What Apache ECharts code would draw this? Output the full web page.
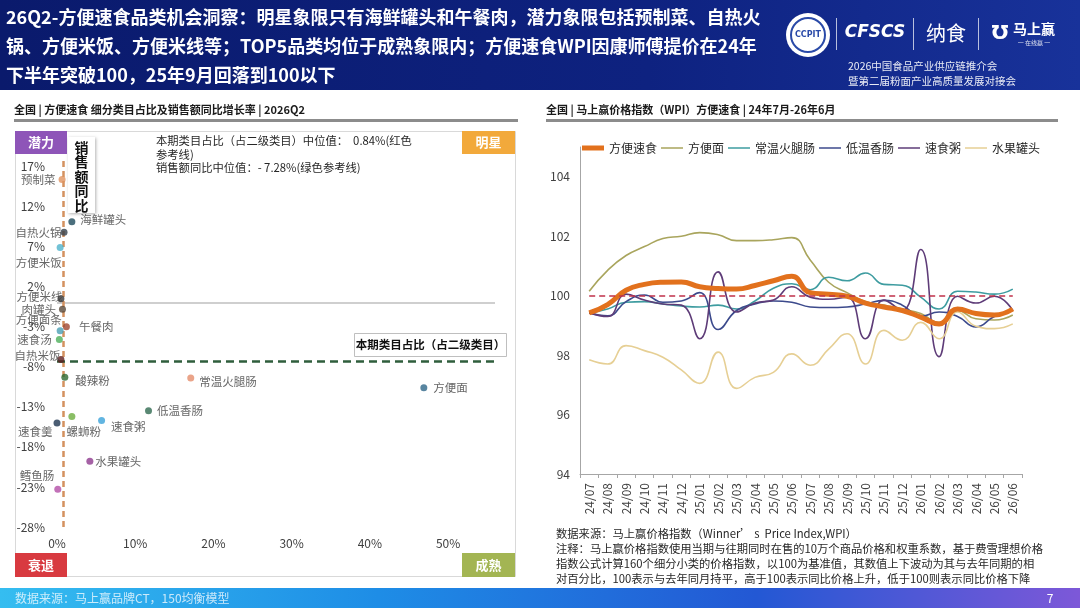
<!DOCTYPE html>
<html><head><meta charset="utf-8">
<script src="https://cdn.jsdelivr.net/npm/echarts@6.0.0/dist/echarts.min.js"></script>
<style>html,body{margin:0;padding:0;background:#fff}#c{width:1080px;height:608px}</style>
</head><body><div id="c"></div>
<script>
const FONT = '"Noto Sans CJK SC","Noto Sans",sans-serif';

// ---------- Left chart: category share vs. sales growth ----------
const categories = ['预制菜','海鲜罐头','自热火锅','方便米饭','方便米线','肉罐头','午餐肉','方便面条','速食汤','自热米饭','酸辣粉','常温火腿肠','方便面','低温香肠','螺蛳粉','速食粥','速食羹','水果罐头','鳕鱼肠'];
const shareValues  = [0.65, 1.9, 0.9, 0.4, 0.5, 0.7, 1.2, 0.4, 0.3, 0.5, 1.0, 17.1, 46.9, 11.7, 1.9, 5.7, 0.0, 4.2, 0.1];
const growthValues = [15.4, 10.1, 8.8, 6.9, 0.5, -0.8, -3.0, -3.5, -4.6, -7.1, -9.3, -9.4, -10.6, -13.5, -14.2, -14.7, -15.0, -19.8, -23.3];
const shareMedian = 0.84;
const growthMedian = -7.28;
const shareTicks  = [0, 10, 20, 30, 40, 50];
const growthTicks = [-28, -23, -18, -13, -8, -3, 2, 7, 12, 17];

// ---------- Right chart: WPI ----------
const months = ['24/07','24/08','24/09','24/10','24/11','24/12','25/01','25/02','25/03','25/04','25/05','25/06','25/07','25/08','25/09','25/10','25/11','25/12','26/01','26/02','26/03','26/04','26/05','26/06'];
const wpiConvenience = [99.42, 99.7, 100.18, 100.38, 100.45, 100.46, 100.3, 100.24, 100.22, 100.34, 100.5, 100.65, 100.1, 100.05, 99.98, 99.75, 99.62, 99.5, 99.28, 99.05, 99.55, 99.4, 99.35, 99.55];
const wpiNoodles     = [100.15, 100.85, 101.35, 101.65, 101.92, 102.0, 102.12, 102.05, 101.85, 101.85, 101.88, 101.95, 101.2, 100.45, 100.1, 99.8, 99.68, 99.55, 99.4, 99.1, 99.5, 99.22, 99.18, 99.35];
const wpiHam         = [99.42, 99.55, 99.78, 99.8, 99.72, 99.65, 99.62, 99.68, 99.55, 99.82, 100.25, 100.4, 100.2, 100.62, 100.5, 100.76, 100.38, 100.35, 99.95, 99.55, 100.15, 100.12, 100.05, 100.22];
const wpiSausage     = [99.42, 99.32, 99.8, 100.02, 99.78, 99.82, 100.1, 98.86, 99.5, 99.72, 99.82, 99.78, 99.62, 99.6, 99.62, 99.72, 99.84, 99.68, 99.3, 99.45, 99.3, 98.95, 99.3, 99.5];
const wpiPorridge    = [99.42, 99.3, 100.05, 99.85, 99.72, 99.68, 98.55, 100.8, 99.45, 99.75, 99.85, 100.3, 99.95, 99.88, 99.95, 98.55, 99.85, 99.5, 101.55, 97.95, 99.98, 99.75, 99.98, 99.5];
const wpiFruitCan    = [97.84, 97.7, 98.32, 98.15, 97.93, 97.5, 97.05, 98.1, 96.88, 97.25, 97.42, 98.04, 97.66, 98.2, 98.72, 97.7, 98.83, 98.5, 99.1, 98.55, 99.45, 98.97, 98.89, 99.05];
const wpiSeriesNames = ['方便速食','方便面','常温火腿肠','低温香肠','速食粥','水果罐头'];
const wpiBase = 100;
const wpiTicks = [94, 96, 98, 100, 102, 104];

// ---------- styles ----------
const pointColors = {
  '预制菜':'#E0925E','海鲜罐头':'#1E4B5C','自热火锅':'#34404A','方便米饭':'#4FB3CC','方便米线':'#3A3A3A',
  '肉罐头':'#5A4A3A','午餐肉':'#A0462E','方便面条':'#4A9FB4','速食汤':'#4CAF5A','自热米饭':'#5E1E1E',
  '酸辣粉':'#2F6A32','常温火腿肠':'#E58D6C','方便面':'#2E6688','低温香肠':'#2F6A50','螺蛳粉':'#6DAE3E',
  '速食粥':'#3BA3D9','速食羹':'#1E3450','水果罐头':'#8E3A8E','鳕鱼肠':'#B34DA6'
};
const labelLayout = {
  '预制菜':{position:'left',distance:3},
  '海鲜罐头':{position:'right',distance:5,offset:[0,-2]},
  '自热火锅':{position:'left',distance:-1},
  '方便米饭':{position:'left',distance:-5,offset:[0,15]},
  '方便米线':{position:'left',distance:-5,offset:[0,-2]},
  '肉罐头':{position:'left',distance:3},
  '午餐肉':{position:'right',distance:9},
  '方便面条':{position:'left',distance:-5,offset:[0,-11]},
  '速食汤':{position:'left',distance:4},
  '自热米饭':{position:'left',distance:-3,offset:[0,-4]},
  '酸辣粉':{position:'right',distance:7,offset:[0,3]},
  '常温火腿肠':{position:'right',distance:5,offset:[0,4]},
  '方便面':{position:'right',distance:6},
  '低温香肠':{position:'right',distance:5},
  '螺蛳粉':{position:'bottom',distance:6,offset:[12,0]},
  '速食粥':{position:'right',distance:6,offset:[0,6]},
  '速食羹':{position:'left',distance:1,offset:[0,9]},
  '水果罐头':{position:'right',distance:2},
  '鳕鱼肠':{position:'left',distance:0,offset:[0,-14]}
};
const lineStyles = {
  '方便速食':{color:'#E2711D',width:5},
  '方便面':{color:'#A9A55D',width:1.6},
  '常温火腿肠':{color:'#3E9CA0',width:1.6},
  '低温香肠':{color:'#3C4A8C',width:1.6},
  '速食粥':{color:'#5E3C78',width:1.6},
  '水果罐头':{color:'#E6CF94',width:1.6}
};
const wpiData = [wpiConvenience, wpiNoodles, wpiHam, wpiSausage, wpiPorridge, wpiFruitCan];

const chart = echarts.init(document.getElementById('c'), null, {renderer:'canvas'});

const scatterData = categories.map((c, i) => ({
  name: c,
  value: [shareValues[i], growthValues[i]],
  itemStyle: {color: pointColors[c]},
  label: Object.assign({}, labelLayout[c])
}));

const lineSeries = wpiSeriesNames.map((n, i) => {
  const s = {
    name: n, type: 'line', xAxisIndex: 1, yAxisIndex: 1,
    data: wpiData[i], smooth: 0.5, symbol: 'none',
    lineStyle: {color: lineStyles[n].color, width: lineStyles[n].width},
    itemStyle: {color: lineStyles[n].color},
    z: n === '方便速食' ? 4 : 3
  };
  if (i === 0) {
    s.markLine = {
      silent: true, symbol: ['none','none'], label: {show:false},
      lineStyle: {color:'#C0304A', type:[6,4], width:1.6},
      data: [[{xAxis: months[0], yAxis: wpiBase}, {xAxis: months[months.length-1], yAxis: wpiBase}]]
    };
  }
  return s;
});

const legendData = wpiSeriesNames.map(n => ({
  name: n,
  icon: n === '方便速食' ? 'path://M0,0H22V5H0Z' : 'path://M0,0H22V1.5H0Z'
}));

const txt = (x, y, text, opt) => Object.assign({type:'text', x, y, z:100, style: Object.assign({text, fill:'#262626', fontFamily:FONT, fontSize:11}, opt || {})});
const rect = (x, y, w, h, style, z) => ({type:'rect', shape:{x, y, width:w, height:h}, style, z: z === undefined ? 100 : z});

const graphics = [
  // header
  rect(0, 0, 1080, 90, {fill: new echarts.graphic.LinearGradient(0,0,1,0,[{offset:0,color:'#0A1A6C'},{offset:0.6,color:'#0E2280'},{offset:1,color:'#18329A'}])}, -10),
  txt(6, 3, '26Q2-方便速食品类机会洞察：明星象限只有海鲜罐头和午餐肉，潜力象限包括预制菜、自热火\n锅、方便米饭、方便米线等；TOP5品类均位于成熟象限内；方便速食WPI因康师傅提价在24年\n下半年突破100，25年9月回落到100以下', {fill:'#FFFFFF', fontSize:18, fontWeight:'bold', lineHeight:29}),
  // logos
  {type:'circle', shape:{cx:808, cy:35, r:22}, style:{fill:'#FFFFFF'}, z:100},
  {type:'circle', shape:{cx:808, cy:35, r:17}, style:{fill:'none', stroke:'#2A4AA8', lineWidth:2}, z:101},
  txt(808, 35, 'CCPIT', {fill:'#2A4AA8', fontSize:8, fontWeight:'bold', align:'center', verticalAlign:'middle', fontFamily:'"DejaVu Sans",sans-serif'}),
  rect(836, 18, 1, 32, {fill:'rgba(255,255,255,0.7)'}),
  txt(875, 33, 'CFSCS', {fill:'#FFFFFF', fontSize:17, fontWeight:'bold', fontStyle:'italic', align:'center', verticalAlign:'middle', fontFamily:'"DejaVu Sans",sans-serif'}),
  rect(913, 18, 1, 32, {fill:'rgba(255,255,255,0.7)'}),
  txt(946, 33, '纳食', {fill:'#FFFFFF', fontSize:20, align:'center', verticalAlign:'middle'}),
  rect(978, 18, 1, 32, {fill:'rgba(255,255,255,0.7)'}),
  txt(1000, 34, 'Ʊ', {fill:'#FFFFFF', fontSize:20, fontWeight:'bold', align:'center', verticalAlign:'middle', fontFamily:'"DejaVu Sans",sans-serif'}),
  txt(1034, 29, '马上赢', {fill:'#FFFFFF', fontSize:14, fontWeight:'bold', align:'center', verticalAlign:'middle'}),
  txt(1034, 43, '一 在线赢 一', {fill:'rgba(255,255,255,0.85)', fontSize:6, align:'center', verticalAlign:'middle'}),
  txt(848, 59, '2026中国食品产业供应链推介会\n暨第二届粉面产业高质量发展对接会', {fill:'rgba(255,255,255,0.9)', fontSize:10.5, lineHeight:15}),
  // footer
  rect(0, 588, 1080, 20, {fill: new echarts.graphic.LinearGradient(0,0,1,0,[{offset:0,color:'#35BDF0'},{offset:0.35,color:'#1E8DE6'},{offset:0.7,color:'#2358D4'},{offset:1,color:'#7D58D8'}])}, -10),
  txt(15, 598, '数据来源：马上赢品牌CT，150均衡模型', {fill:'rgba(255,255,255,0.75)', fontSize:12, verticalAlign:'middle'}),
  txt(1050, 598, '7', {fill:'#FFFFFF', fontSize:12, verticalAlign:'middle', align:'center'}),
  // panel titles
  txt(14, 110, '全国 | 方便速食 细分类目占比及销售额同比增长率 | 2026Q2', {fill:'#1A1A1A', fontSize:11, fontWeight:'bold', verticalAlign:'middle'}),
  rect(14, 119, 504, 3, {fill:'#8C8C8C'}),
  txt(546, 110, '全国 | 马上赢价格指数（WPI）方便速食 | 24年7月-26年6月', {fill:'#1A1A1A', fontSize:11, fontWeight:'bold', verticalAlign:'middle'}),
  rect(546, 119, 512, 3, {fill:'#8C8C8C'}),
  // left panel frame
  rect(15.5, 131.5, 500, 445, {fill:'none', stroke:'#D9D9D9', lineWidth:1}, -5),
  // quadrant tags
  rect(15, 131, 52, 23, {fill:'#8E55B8'}),
  txt(41, 142.5, '潜力', {fill:'#FFFFFF', fontSize:13, fontWeight:'bold', align:'center', verticalAlign:'middle'}),
  rect(462, 131, 53, 23, {fill:'#F2A93B'}),
  txt(488.5, 142.5, '明星', {fill:'#FFFFFF', fontSize:13, fontWeight:'bold', align:'center', verticalAlign:'middle'}),
  rect(15, 553, 52, 24, {fill:'#D83A40'}),
  txt(41, 565, '衰退', {fill:'#FFFFFF', fontSize:13, fontWeight:'bold', align:'center', verticalAlign:'middle'}),
  rect(462, 553, 53, 24, {fill:'#A3B553'}),
  txt(488.5, 565, '成熟', {fill:'#FFFFFF', fontSize:13, fontWeight:'bold', align:'center', verticalAlign:'middle'}),
  // legend text of left chart
  txt(156, 134, '本期类目占比（占二级类目）中位值：  ' + shareMedian.toFixed(2) + '%(红色\n参考线)\n销售额同比中位值：- ' + Math.abs(growthMedian).toFixed(2) + '%(绿色参考线)', {fill:'#262626', fontSize:11.3, lineHeight:13.5}),
  // y-axis name box
  rect(68, 137, 27, 76, {fill:'#FFFFFF', shadowBlur:3, shadowColor:'rgba(0,0,0,0.3)', shadowOffsetX:1, shadowOffsetY:1}),
  txt(81.5, 140, '销\n售\n额\n同\n比', {fill:'#111111', fontSize:14, fontWeight:'bold', lineHeight:14.5, align:'center'}),
  // x-axis name box
  rect(354.5, 333.5, 152, 23, {fill:'#FFFFFF', stroke:'#BFBFBF', lineWidth:1}),
  txt(430.5, 345, '本期类目占比（占二级类目）', {fill:'#111111', fontSize:11.5, fontWeight:'bold', align:'center', verticalAlign:'middle'}),
  // notes on right
  txt(556, 526, '数据来源：马上赢价格指数（Winner’ s  Price Index,WPI）\n注释：马上赢价格指数使用当期与往期同时在售的10万个商品价格和权重系数，基于费雪理想价格\n指数公式计算160个细分小类的价格指数，以100为基准值，其数值上下波动为其与去年同期的相\n对百分比，100表示与去年同月持平，高于100表示同比价格上升，低于100则表示同比价格下降', {fill:'#262626', fontSize:11.3, lineHeight:15})
];

const option = {
  animation: false,
  textStyle: {fontFamily: FONT},
  grid: [
    {left: 57, top: 157, width: 438, height: 370},
    {left: 580, top: 147, right: 58, bottom: 134}
  ],
  xAxis: [
    {type:'value', gridIndex:0, min: shareTicks[0], max: 56, interval: shareTicks[1]-shareTicks[0],
     axisLine:{show:false}, axisTick:{show:false}, splitLine:{show:false},
     axisLabel:{formatter:'{value}%', color:'#404040', fontSize:12, margin:10, showMaxLabel:false}},
    {type:'category', gridIndex:1, data: months, boundaryGap:true,
     axisLine:{show:true, lineStyle:{color:'#A6A6A6'}}, axisTick:{show:true, length:4, lineStyle:{color:'#A6A6A6'}},
     axisLabel:{rotate:90, color:'#404040', fontSize:12, margin:9, interval:0}}
  ],
  yAxis: [
    {type:'value', gridIndex:0, min: growthTicks[0], max: 18.2, interval: growthTicks[1]-growthTicks[0],
     axisLine:{show:false}, axisTick:{show:false}, splitLine:{show:false},
     axisLabel:{formatter:'{value}%', color:'#404040', fontSize:12, margin:12, showMaxLabel:false}},
    {type:'value', gridIndex:1, min: wpiTicks[0], max: 105, interval: wpiTicks[1]-wpiTicks[0],
     axisLine:{show:true, lineStyle:{color:'#A6A6A6'}}, axisTick:{show:false}, splitLine:{show:false},
     axisLabel:{color:'#404040', fontSize:12, margin:10, showMaxLabel:false}}
  ],
  legend: {
    data: legendData, left: 577, top: 137, width: 500, itemWidth: 22, itemHeight: 12, itemGap: 4,
    symbolKeepAspect: true,
    textStyle: {color:'#262626', fontSize:12, fontFamily: FONT}
  },
  graphic: graphics,
  series: [
    {
      name:'类目', type:'scatter', xAxisIndex:0, yAxisIndex:0, symbolSize:7, z:5,
      data: scatterData,
      label: {show:true, formatter:'{b}', color:'#404040', fontSize:11.5, fontFamily: FONT},
      markLine: {
        silent:true, symbol:['none','none'], label:{show:false},
        data: [
          {yAxis: 0, lineStyle:{color:'#BFBFBF', type:'solid', width:1.5}},
          {xAxis: shareMedian, lineStyle:{color:'#D4915F', type:[6,4], width:2.5}},
          {yAxis: growthMedian, lineStyle:{color:'#2F5E3C', type:[8,5], width:2.5}}
        ]
      }
    }
  ].concat(lineSeries)
};
chart.setOption(option);
</script></body></html>
